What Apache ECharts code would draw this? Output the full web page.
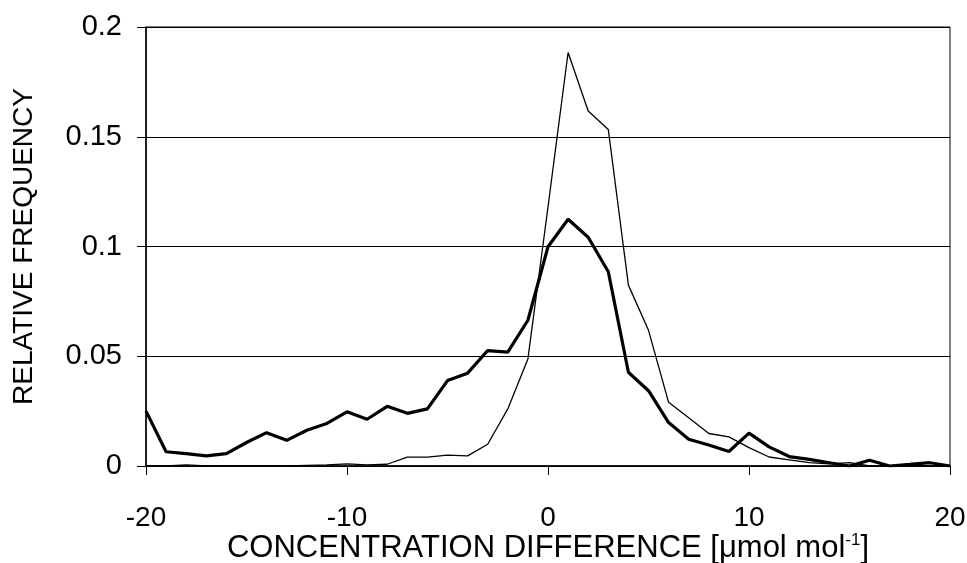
<!DOCTYPE html>
<html>
<head>
<meta charset="utf-8">
<script src="https://cdn.jsdelivr.net/npm/echarts@6/dist/echarts.min.js"></script>
<style>
html,body{margin:0;padding:0;background:#fff;}
#chart{width:967px;height:563px;}
</style>
</head>
<body>
<div id="chart"></div>
<script>
// Concentration difference bins
const xValues = [-20,-19,-18,-17,-16,-15,-14,-13,-12,-11,-10,-9,-8,-7,-6,-5,-4,-3,-2,-1,0,1,2,3,4,5,6,7,8,9,10,11,12,13,14,15,16,17,18,19,20];
// Thick line series
const thickSeries = [0.025,0.0065,0.0056,0.0046,0.0056,0.0107,0.0152,0.0117,0.0163,0.0194,0.0247,0.0213,0.0272,0.024,0.026,0.0389,0.0423,0.0526,0.0519,0.0664,0.0999,0.1124,0.1042,0.0885,0.0427,0.0343,0.0198,0.0122,0.0096,0.0066,0.015,0.0087,0.0043,0.003,0.0015,0,0.0026,0,0.0007,0.0015,0];
// Thin line series
const thinSeries = [0,0,0.0005,0,0,0,0,0,0.0003,0.0005,0.001,0.0005,0.0008,0.004,0.004,0.005,0.0046,0.0099,0.026,0.0488,0.118,0.1884,0.1617,0.1533,0.0824,0.0618,0.029,0.022,0.0148,0.0133,0.0084,0.0041,0.0028,0.0015,0.001,0.0015,0,0,0.0005,0,0];
const xTicks = [-20,-10,0,10,20];
const yTicks = [0,0.05,0.1,0.15,0.2];

const font = 'Liberation Sans, Arial, sans-serif';
const chart = echarts.init(document.getElementById('chart'));
chart.setOption({
  animation: false,
  backgroundColor: '#fff',
  grid: {left: 146, right: 17, top: 27, bottom: 97, containLabel: false, outerBoundsMode: 'none',
    show: true, borderColor: '#000', borderWidth: 1},
  xAxis: {
    type: 'value', min: -20, max: 20, interval: 10,
    axisLine: {onZero: false, lineStyle: {color: '#000', width: 1.5}},
    axisTick: {show: true, inside: false, length: 9, lineStyle: {color: '#000'}},
    axisLabel: {color: '#000', fontFamily: font, fontSize: 28, margin: 38,
      formatter: v => xTicks.includes(v) ? String(v) : ''},
    splitLine: {show: false},
    name: 'CONCENTRATION DIFFERENCE [μmol mol{sup|-1}]',
    nameLocation: 'middle', nameGap: 66, nameMoveOverlap: false,
    nameTextStyle: {color: '#000', fontFamily: font, fontSize: 31,
      rich: {sup: {fontSize: 17, fontFamily: font, color: '#000', padding: [0, 0, 16, 0]}}}
  },
  yAxis: {
    type: 'value', min: 0, max: 0.2, interval: 0.05,
    axisLine: {show: true, onZero: false, lineStyle: {color: '#000', width: 1.5}},
    axisTick: {show: true, inside: false, length: 9, lineStyle: {color: '#000'}},
    axisLabel: {color: '#000', fontFamily: font, fontSize: 29, margin: 24,
      formatter: v => yTicks.includes(+v.toFixed(2)) ? String(+v.toFixed(2)) : ''},
    splitLine: {show: true, lineStyle: {color: '#000', width: 1}},
    name: 'RELATIVE FREQUENCY', nameLocation: 'middle', nameGap: 108, nameMoveOverlap: false,
    nameTextStyle: {color: '#000', fontFamily: font, fontSize: 28}
  },
  series: [
    {type: 'line', data: xValues.map((x, i) => [x, thinSeries[i]]), showSymbol: false,
     lineStyle: {color: '#000', width: 1.3}, z: 3},
    {type: 'line', data: xValues.map((x, i) => [x, thickSeries[i]]), showSymbol: false,
     lineStyle: {color: '#000', width: 3.2}, z: 4}
  ]
});
</script>
</body>
</html>
